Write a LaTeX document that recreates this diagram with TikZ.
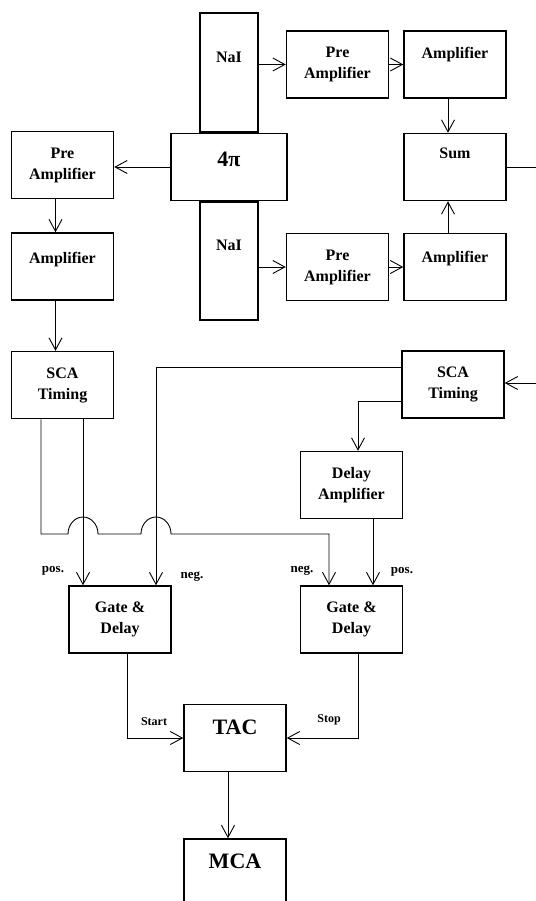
\documentclass[tikz,border=0pt]{standalone}
\usepackage{fontspec}
\setmainfont{Liberation Serif}
\usetikzlibrary{arrows.meta, positioning, calc}

\begin{document}
\begin{tikzpicture}[x=1pt, y=-1pt, >={Straight Barb[length=12pt, width=13pt]},
  blk/.style={draw, line width=1.5pt, inner sep=0pt, minimum width=102pt,
              minimum height=67pt, align=center,
              font=\bfseries\fontsize{16}{21}\selectfont},
  big/.style={font=\bfseries\fontsize{22}{24}\selectfont},
  wire/.style={line width=0.9pt},
  lbl/.style={inner sep=0pt, font=\bfseries\fontsize{13}{14}\selectfont},
  smlbl/.style={inner sep=0pt, font=\bfseries\fontsize{12}{13}\selectfont}]

  \useasboundingbox (0,0) rectangle (535,901);

  % detector column
  \node[blk, minimum width=58pt, text height=50pt, text depth=69pt] (naiT) at (229,72.5) {NaI};
  \node[blk, big, minimum width=116pt, text height=33pt, text depth=34pt,
        below=0pt of naiT] (quad) {4π};
  \node[blk, minimum width=58pt, text height=49pt, text depth=69pt,
        below=0pt of quad] (naiB) {NaI};

  % sum branch
  \node[blk] (preT) at (337.5,64.5) {Pre\\Amplifier};
  \node[blk, text height=28pt, text depth=39pt, right=14pt of preT] (ampT) {Amplifier};
  \node[blk, text height=25pt, text depth=42pt, below=34pt of ampT] (sum) {Sum};
  \node[blk] (preB) at (337.5,267) {Pre\\Amplifier};
  \node[blk, text height=29pt, text depth=38pt, right=14pt of preB] (ampB) {Amplifier};

  % timing branch
  \node[blk] (preL) at (62.5,165) {Pre\\Amplifier};
  \node[blk, text height=30pt, text depth=37pt, below=33pt of preL] (ampL) {Amplifier};
  \node[blk, below=50pt of ampL] (scaL) {SCA\\Timing};
  \node[blk] (scaR) at (453,384.5) {SCA\\Timing};
  \node[blk] (delay) at (351.5,485) {Delay\\Amplifier};
  \node[blk] (gateL) at (120,619.5) {Gate \&\\Delay};
  \node[blk] (gateR) at (351.5,619.5) {Gate \&\\Delay};
  \node[blk, big, text height=29.5pt, text depth=37.5pt] (tac) at (235,738) {TAC};
  \node[blk, big, text height=29.5pt, text depth=37.5pt, below=66pt of tac] (mca) {MCA};

  \coordinate (rim) at (540,0);

  % connectors
  \draw[wire, ->] (preT.west -| naiT.east) -- (preT.west);
  \draw[wire, ->] (preT.east) -- (ampT.west);
  \draw[wire, ->] ([xshift=-7pt]ampT.south) -- ([xshift=-7pt]sum.north);
  \draw[wire] (sum.east) -- (sum.east -| rim);
  \draw[wire, ->] (preB.west -| naiB.east) -- (preB.west);
  \draw[wire, ->] (preB.east) -- (ampB.west);
  \draw[wire, ->] ([xshift=-7pt]ampB.north) -- ([xshift=-7pt]sum.south);
  \draw[wire, ->] (quad.west) -- (quad.west -| preL.east);
  \draw[wire, ->] ([xshift=-7pt]preL.south) -- ([xshift=-7pt]ampL.north);
  \draw[wire, ->] ([xshift=-7pt]ampL.south) -- ([xshift=-7pt]scaL.north);
  \draw[wire, ->] ([yshift=1.5pt]scaR.east -| rim) -- ([yshift=1.5pt]scaR.east);

  \draw[wire, ->] ([xshift=20.5pt]scaL.south) -- ([xshift=-37pt]gateL.north);
  \draw[wire, ->] ([xshift=-21.5pt]scaL.south) |- (68,534)
    arc[start angle=180, end angle=0, x radius=15pt, y radius=17pt] -- (141,534)
    arc[start angle=180, end angle=0, x radius=15pt, y radius=17pt] -- (329,534)
    -- ([xshift=-22.5pt]gateR.north);
  \draw[wire, ->] ([yshift=17.5pt]scaR.west) -| ([xshift=36pt]gateL.north);
  \draw[wire, ->] ([yshift=-16.5pt]scaR.west) -| ([xshift=6.5pt]delay.north);
  \draw[wire, ->] ([xshift=21.5pt]delay.south) -- ([xshift=21.5pt]gateR.north);
  \draw[wire, ->] ([xshift=7pt]gateL.south) |- (tac.west);
  \draw[wire, ->] ([xshift=6.5pt]gateR.south) |- (tac.east);
  \draw[wire, ->] ([xshift=-7pt]tac.south) -- ([xshift=-7pt]mca.north);

  % labels
  \node[lbl] (posL) at (53,571) {pos.};
  \node[lbl] (negL) at (192,577) {neg.};
  \node[lbl] (negR) at (302,571) {neg.};
  \node[lbl] (posR) at (402,572) {pos.};
  \node[smlbl] (startL) at (154,722) {Start};
  \node[smlbl] (stopL) at (329,720) {Stop};
\end{tikzpicture}
\end{document}
